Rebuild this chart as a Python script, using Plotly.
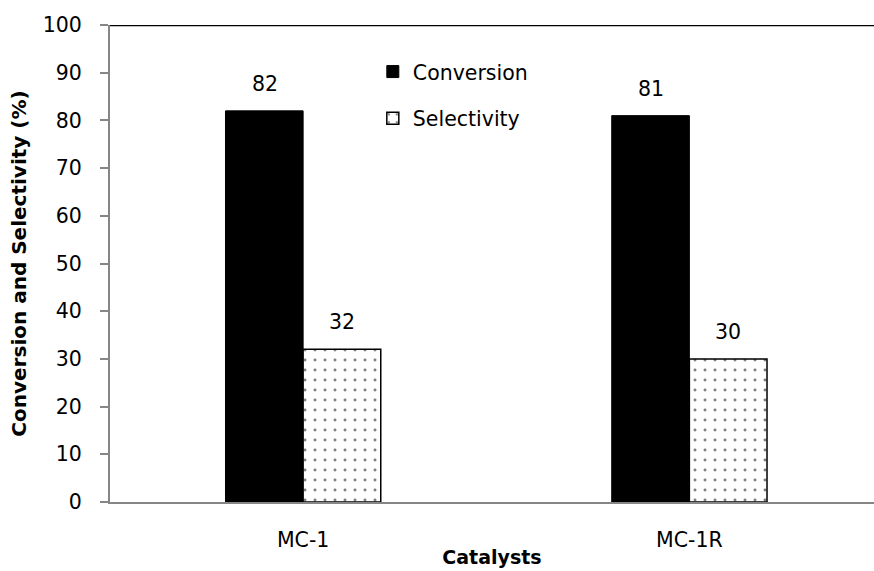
import plotly.graph_objects as go

# Catalyst performance data
catalysts = ["MC-1", "MC-1R"]
conversion = [82, 81]
selectivity = [32, 30]

FONT = "DejaVu Sans"
FS = 20.5

fig = go.Figure()

fig.add_trace(go.Bar(
    x=catalysts, y=conversion, name="Conversion",
    marker=dict(color="black", line=dict(color="black", width=1)),
    legend="legend",
))
fig.add_trace(go.Bar(
    x=catalysts, y=selectivity, name="Selectivity",
    marker=dict(color="white", line=dict(color="black", width=1.5),
                pattern=dict(shape=".", fgcolor="black", bgcolor="white",
                             size=10, solidity=0.07)),
    legend="legend2",
))

# value labels above each bar
offsets = [-0.1, 0.1]
for series, dx in zip([conversion, selectivity], offsets):
    for i, v in enumerate(series):
        fig.add_annotation(x=i + dx, y=v, text=str(v), showarrow=False,
                           yshift=27, font=dict(family=FONT, size=FS, color="black"))

# plot-area top border
fig.add_shape(type="line", xref="paper", yref="y", x0=0, x1=1, y0=100, y1=100,
              line=dict(color="black", width=2.5))

fig.update_layout(
    width=874, height=571,
    margin=dict(l=110, r=0, t=25, b=69),
    paper_bgcolor="white", plot_bgcolor="white",
    font=dict(family=FONT, size=FS, color="black"),
    showlegend=True,
    barmode="group", bargap=0.598, bargroupgap=0,
    xaxis=dict(
        type="category", range=[-0.5, 1.478],
        showline=True, linecolor="#868686", linewidth=2,
        ticks="", showgrid=False, automargin=False,
        ticklabelstandoff=18,
        tickfont=dict(family=FONT, size=FS),
        title=dict(text="<b>Catalysts</b>", font=dict(family=FONT, size=19), standoff=0),
    ),
    yaxis=dict(
        range=[0, 100], dtick=10,
        showline=True, linecolor="#868686", linewidth=2,
        ticks="outside", ticklen=8, tickcolor="#868686", tickwidth=1.5,
        showgrid=False, zeroline=False, automargin=False,
        ticklabelstandoff=14,
        tickfont=dict(family=FONT, size=FS),
        title=dict(text="<b>Conversion and Selectivity (%)</b>",
                   font=dict(family=FONT, size=20), standoff=11),
    ),
    legend=dict(x=0.344, y=0.902, xanchor="left", yanchor="middle",
                bgcolor="rgba(0,0,0,0)", font=dict(family=FONT, size=FS),
                itemwidth=30),
    legend2=dict(x=0.344, y=0.804, xanchor="left", yanchor="middle",
                 bgcolor="rgba(0,0,0,0)", font=dict(family=FONT, size=FS),
                 itemwidth=30),
)

fig.write_html("out.html")
